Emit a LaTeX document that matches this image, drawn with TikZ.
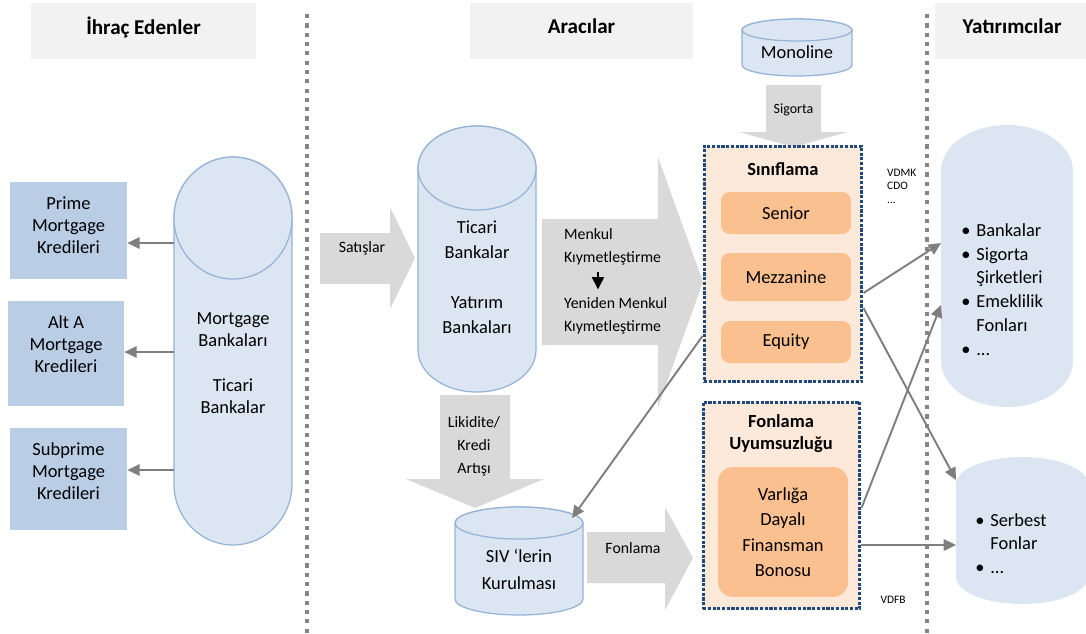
\documentclass[tikz,border=0pt]{standalone}
\usepackage{fontspec}
\setmainfont{Carlito}
\usetikzlibrary{arrows.meta,positioning,calc}

\definecolor{headgray}{HTML}{F2F2F2}
\definecolor{loanblue}{HTML}{B9CDE5}
\definecolor{drumfill}{HTML}{DCE6F2}
\definecolor{drumline}{HTML}{95B3D7}
\definecolor{flowgray}{HTML}{D9D9D9}
\definecolor{linkgray}{HTML}{7F7F7F}
\definecolor{trancheorange}{HTML}{FAC08F}
\definecolor{trayfill}{HTML}{FDE9D9}
\definecolor{trayline}{HTML}{1F497D}
\definecolor{dividergray}{HTML}{858585}

% upright cylinder: style, centre x, top, bottom, x radius, y radius
\newcommand\drum[6]{%
  \path[#1] ({#2-#5},{#3+#6}) -- ({#2-#5},{#4-#6})
    arc[start angle=180, end angle=0, x radius=#5, y radius=#6]
    -- ({#2+#5},{#3+#6})
    arc[start angle=0, end angle=-180, x radius=#5, y radius=#6] -- cycle;}

\begin{document}
\begin{tikzpicture}[x=0.02cm, y=-0.02cm,
  font=\fontsize{10.5}{12.5}\selectfont,
  headbox/.style={fill=headgray, minimum height=1.12cm, inner sep=0pt, text depth=0.2cm,
    font=\fontsize{12}{14}\selectfont\bfseries},
  loanbox/.style={fill=loanblue, minimum width=2.34cm, inner sep=0pt},
  cover/.style={inner sep=0pt, outer sep=0pt},
  drumbody/.style={fill=drumfill, draw=drumline, line width=0.7pt},
  investor/.style={fill=drumfill},
  flow/.style={fill=flowgray},
  link/.style={draw=linkgray, line width=1.1pt, -{Triangle[length=7pt,width=6.5pt]}},
  tray/.style={fill=trayfill, draw=trayline, line width=1.7pt,
    dash pattern=on 1.8pt off 0.9pt, inner sep=0pt},
  tranche/.style={fill=trancheorange, rounded corners=5pt, minimum width=2.6cm, inner sep=0pt},
  divider/.style={draw=dividergray, line width=2.4pt, dash pattern=on 2.4pt off 2.9pt},
  small/.style={font=\fontsize{9}{13}\selectfont},
  tiny/.style={font=\fontsize{6.5}{7.7}\selectfont}]

    \useasboundingbox (0,0) rectangle (1086,633);

    % Column headings and dividers
    \node[headbox, minimum width=4.5cm] (issuers) at (143.5,31) {İhraç Edenler};
    \node[headbox, minimum width=4.46cm] (middlemen) at (581.5,31) {Aracılar};
    \node[headbox, minimum width=3.1cm] (investors) at (1012,31) {Yatırımcılar};
    \draw[divider] (307,14) -- (307,633);
    \draw[divider] (927,14) -- (927,633);

    % Issuers
    \node[loanbox, minimum height=1.94cm] (prime) at (68.5,230.5) {};
    \node[align=center] (primetxt) at (68.5,225) {Prime\\Mortgage\\Kredileri};
    \node[loanbox, minimum width=2.32cm, minimum height=2.1cm] (alta) at (66,353.5) {};
    \node[align=center] (altatxt) at (66,344) {Alt A\\Mortgage\\Kredileri};
    \node[loanbox, minimum height=2.04cm] (subprime) at (68.5,479) {};
    \node[align=center] (subprimetxt) at (68.5,471) {Subprime\\Mortgage\\Kredileri};

    \drum{drumbody}{233}{157}{545}{59}{61}
    \draw[drumbody] (233,218) ellipse [x radius=59, y radius=61];
    \node[cover, minimum width=2.36cm, minimum height=7.76cm] (mortgage) at (233,351) {};
    \node[align=center] (mortgagetxt) at (233,363) {Mortgage\\Bankaları\\[0.46cm]Ticari\\Bankalar};

    \draw[link] (mortgage.west |- 0,243) -- (prime.east |- 0,243);
    \draw[link] (mortgage.west |- 0,352) -- (alta.east |- 0,352);
    \draw[link] (mortgage.west |- 0,470) -- (subprime.east |- 0,470);

    % Intermediaries
    \fill[flow] (320,233) -- (390,233) -- (390,207) -- (415,258) -- (390,309) -- (390,284) -- (320,284) -- cycle;
    \node[small] (sales) at (362,248) {Satışlar};

    \drum{drumbody}{477}{126}{392}{59}{42}
    \draw[drumbody] (477,168) ellipse [x radius=59, y radius=42];
    \node[cover, minimum width=2.36cm, minimum height=5.32cm] (banks) at (477,259) {};
    \node[align=center, font=\fontsize{10.5}{14.2}\selectfont] (bankstxt) at (477,277)
        {Ticari\\Bankalar\\[0.5cm]Yatırım\\Bankaları};

    \fill[flow] (542,219) -- (658,219) -- (658,157) -- (703,282) -- (658,407) -- (658,345) -- (542,345) -- cycle;
    \node[small, align=left, anchor=west] (securtop) at (558,246.5) {Menkul\\Kıymetleştirme};
    \node[small, align=left, anchor=west] (securbot) at (558,315.5) {Yeniden Menkul\\Kıymetleştirme};
    \draw[line width=0.9pt, -{Triangle[length=7pt,width=7pt]}, shorten <=0.5pt, shorten >=1pt]
        (securtop.south -| 598,0) -- (securbot.north -| 598,0);

    \fill[flow] (440,395) -- (510,395) -- (510,479) -- (544,479) -- (475,508) -- (406,479) -- (440,479) -- cycle;
    \node[small, align=center] (liquidity) at (474,446) {Likidite/\\Kredi\\Artışı};

    \drum{drumbody}{519}{507}{615}{64}{16}
    \draw[drumbody] (519,523) ellipse [x radius=64, y radius=16];
    \node[cover, minimum width=2.56cm, minimum height=2.16cm] (siv) at (519,561) {};
    \node[align=center, font=\fontsize{10.5}{15.4}\selectfont] (sivtxt) at (519,569.5) {SIV ‘lerin\\Kurulması};

    \fill[flow] (587,532) -- (665,532) -- (665,507) -- (693,558) -- (665,610) -- (665,583) -- (587,583) -- cycle;
    \node[small] (fundflow) at (633,548) {Fonlama};

    \drum{drumbody}{797}{19}{76}{55}{11}
    \draw[drumbody] (797,30) ellipse [x radius=55, y radius=11];
    \node[cover, minimum width=2.2cm, minimum height=1.14cm] (monoline) at (797,47.5) {};
    \node (monolinetxt) at (797,52) {Monoline};

    \fill[flow] (766,85) -- (821,85) -- (821,132) -- (848,132) -- (793.5,147) -- (739,132) -- (766,132) -- cycle;
    \node[small, font=\fontsize{8}{10}\selectfont] (insurance) at (793.5,110) {Sigorta};

    % Tranching box
    \node[tray, minimum width=3.16cm, minimum height=4.72cm] (tranching) at (783,264) {};
    \node[font=\fontsize{10.5}{12.5}\selectfont\bfseries] (tranchtitle) at (783,169) {Sınıflama};
    \node[tranche, minimum height=0.84cm] (senior) at (786,213) {Senior};
    \node[tranche, minimum height=0.96cm] (mezz) at (786,277) {Mezzanine};
    \node[tranche, minimum height=0.84cm] (equity) at (786,342) {Equity};
    \node[tiny, align=left, anchor=west] (cdo) at (881,186) {VDMK\\CDO\\...};

    % Funding mismatch box
    \node[tray, minimum width=3.14cm, minimum height=4.14cm] (funding) at (781.5,505.5) {};
    \node[align=center, font=\fontsize{10.5}{12.5}\selectfont\bfseries] (fundtitle) at (781,434)
        {Fonlama\\Uyumsuzluğu};
    \node[tranche, rounded corners=0.3cm, minimum height=2.6cm, align=center,
        font=\fontsize{10.5}{14.5}\selectfont] (abcp) at (783,532)
        {Varlığa\\Dayalı\\Finansman\\Bonosu};
    \node[tiny] (abcplabel) at (893,600) {VDFB};

    % Investors
    \drum{investor}{1007}{125}{407}{66}{46}
    \node[cover, minimum width=2.64cm, minimum height=5.64cm] (lenders) at (1007,266) {};
    \node[align=left, anchor=west, inner sep=0pt, font=\fontsize{10.5}{13.5}\selectfont] (lenderstxt) at (961,289.5)
        {\makebox[0.3cm][l]{\textbullet}Bankalar\\
         \makebox[0.3cm][l]{\textbullet}Sigorta\\
         \hspace*{0.3cm}Şirketleri\\
         \makebox[0.3cm][l]{\textbullet}Emeklilik\\
         \hspace*{0.3cm}Fonları\\
         \makebox[0.3cm][l]{\textbullet}...};

    \drum{investor}{1022}{457}{604}{66}{27}
    \node[cover, minimum width=2.64cm, minimum height=2.94cm] (hedge) at (1022,530.5) {};
    \node[align=left, anchor=west, inner sep=0pt, font=\fontsize{10.5}{13.5}\selectfont] (hedgetxt) at (975,543.5)
        {\makebox[0.3cm][l]{\textbullet}Serbest\\
         \hspace*{0.3cm}Fonlar\\
         \makebox[0.3cm][l]{\textbullet}...};

    % Flows between boxes
    \draw[link] (tranching.east |- 0,293) -- (lenders.west |- 0,243);
    \draw[link] (tranching.east |- 0,308) -- ([yshift=-0.46cm]hedge.north west);
    \draw[link] (funding.east |- 0,508) -- (lenders.west |- 0,305);
    \draw[link] (funding.east |- 0,545) -- (hedge.west |- 0,545);
    \draw[link] (tranching.west |- 0,336) -- ([shift={(-0.22cm,-0.22cm)}]siv.north east);

\end{tikzpicture}
\end{document}
